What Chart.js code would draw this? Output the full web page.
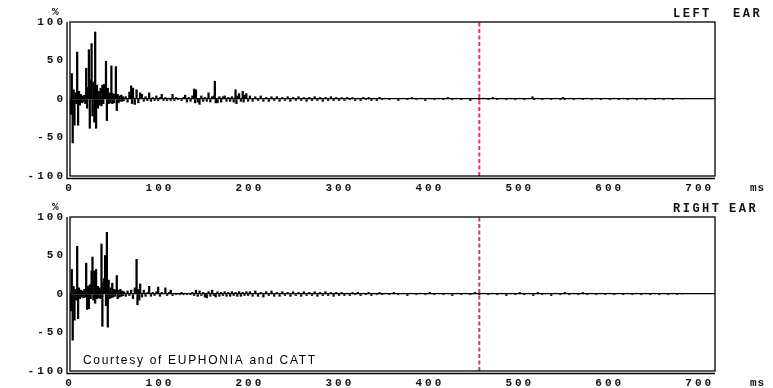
<!DOCTYPE html>
<html>
<head>
<meta charset="utf-8">
<script src="https://cdn.jsdelivr.net/npm/chart.js@4.4.1/dist/chart.umd.min.js"></script>
<style>
  html, body { margin: 0; padding: 0; background: #fff; overflow: hidden; }
  canvas { display: block; }
</style>
</head>
<body>
<canvas id="leftChart" width="773" height="195"></canvas>
<canvas id="rightChart" width="773" height="193"></canvas>
<script>
// impulse response values: [ms, %]
var leftEar = [
  [0,0],[1,-20],[2,33],[3,-57],[4,12],[5,-34],[6,8],[7,-6],[8,61],[9,-34],
  [10,10],[11,-8],[12,6],[13,-5],[14,4],[15,-4],[16,5],[17,-6],[18,40],[19,-12],
  [20,15],[21,64],[22,-38],[23,25],[24,72],[25,-22],[26,22],[27,-30],[28,87],[29,-38],
  [30,18],[31,-12],[32,10],[33,-8],[34,14],[35,-9],[36,18],[37,-6],[38,19],[39,12],
  [40,49],[41,-28],[42,14],[43,-6],[44,8],[45,-5],[46,43],[47,-6],[48,7],[49,-5],
  [50,6],[51,42],[52,-15],[53,6],[54,-5],[55,4],[56,-3],[57,5],[58,-3],[59,3],[60,-2],
  [62,3],[64,-4],[66,9],[68,17],[69,-6],[70,14],[72,-7],[74,12],[76,-5],[78,8],
  [80,6],[82,-3],[84,3],[86,-2],[88,8],[90,-3],[92,2],[94,-2],[96,4],[98,-2],
  [100,2],[102,6],[104,-2],[106,2],[108,-2],[110,1],[112,-2],[114,6],[116,-2],[118,2],
  [120,-1],[122,1],[124,-2],[126,2],[128,5],[130,-4],[132,2],[134,-3],[136,4],[138,13],
  [139,-5],[140,12],[142,-4],[144,-7],[146,4],[148,-3],[150,2],[152,-3],[154,8],[156,-4],
  [158,3],[160,4],[161,23],[162,-5],[164,-5],[166,3],[168,-4],[170,3],[172,4],[174,-3],
  [176,2],[178,-3],[180,3],[182,-4],[184,12],[185,-6],[186,4],[188,7],[190,-3],[192,10],
  [193,-4],[194,5],[196,7],[198,-3],[200,4],
  [203,-3],[206,3],[209,-2],[212,4],[215,-3],[218,2],[221,-3],[224,3],[227,-2],[230,3],
  [233,-3],[236,2],[239,-2],[242,3],[245,-3],[248,2],[251,-2],[254,3],[257,-2],[260,2],
  [263,-3],[266,2],[269,-2],[272,3],[275,-2],[278,2],[281,-3],[284,2],[287,-2],[290,3],
  [293,-2],[296,2],[299,-2],[302,2],[305,-2],[308,2],[311,-1],[314,2],[317,-2],[320,1],
  [323,-2],[326,2],[329,-1],[332,2],[335,-2],[338,1],[341,-2],[344,2],[347,-1],[350,1],
  [355,-1],[360,1],[365,-2],[370,1],[375,-1],[380,2],[385,-1],[390,1],[395,-2],[400,1],
  [405,-1],[410,1],[415,-1],[420,2],[425,-1],[430,1],[435,-1],[440,1],[445,-2],[450,1],
  [455,-1],[460,1],[465,-1],[470,2],[475,-1],[480,1],[485,-1],[490,1],[495,-1],[500,1],
  [505,-1],[510,1],[514,3],[516,-1],[520,1],[525,-1],[530,1],[535,-1],[540,1],[545,-1],
  [548,2],[550,-1],[555,1],[560,-1],[565,1],[570,-1],[575,1],[580,-1],[585,1],[590,-1],
  [595,1],[600,-1],[605,1],[610,-1],[615,1],[620,-1],[625,1],[630,-1],[635,1],[640,-1],
  [645,1],[650,-1],[655,1],[660,-1],[665,1],[670,-1],[675,1],[681,0]
];

var rightEar = [
  [0,0],[1,-22],[2,32],[3,-60],[4,10],[5,-34],[6,6],[7,-8],[8,62],[9,-32],
  [10,8],[11,-6],[12,5],[13,-4],[14,4],[15,-5],[16,6],[17,-4],[18,40],[19,-20],
  [20,10],[21,-19],[22,12],[23,-6],[24,30],[25,48],[26,-8],[27,30],[28,-12],[29,32],
  [30,-6],[31,10],[32,-5],[33,8],[34,-6],[35,65],[36,-42],[37,15],[38,20],[39,50],
  [40,-15],[41,80],[42,-43],[43,18],[44,-6],[45,8],[46,-5],[47,14],[48,-4],[49,6],
  [50,-3],[51,5],[52,24],[53,-6],[54,5],[55,-4],[56,6],[57,-3],[58,4],[59,-2],[60,3],
  [62,-3],[64,4],[66,-2],[68,5],[70,-6],[72,8],[74,45],[75,-14],[76,6],[77,-8],
  [78,13],[80,-4],[82,5],[84,-3],[86,2],[88,10],[90,-3],[92,2],[94,-2],[96,3],
  [98,9],[100,-3],[102,2],[104,1],[106,8],[108,-2],[110,2],[112,5],[114,-2],[116,1],
  [118,-1],[120,1],[122,-1],[124,2],[126,-1],[128,1],[130,-1],[132,1],[134,-1],[136,2],
  [138,-2],[140,5],[142,-3],[144,4],[146,-2],[148,2],[150,-4],[152,-5],[154,3],[156,-3],
  [158,5],[160,-2],[162,-4],[164,3],[166,-3],[168,2],[170,-2],[172,3],[174,-3],[176,2],
  [178,-3],[180,3],[182,-2],[184,2],[186,-3],[188,3],[190,-3],[192,2],[194,-2],[196,3],
  [198,-2],[200,3],
  [203,-3],[206,4],[209,-3],[212,2],[215,-4],[218,3],[221,-2],[224,4],[227,-3],[230,2],
  [233,-3],[236,3],[239,-2],[242,2],[245,-3],[248,3],[251,-2],[254,2],[257,-3],[260,3],
  [263,-2],[266,2],[269,-2],[272,3],[275,-3],[278,2],[281,-2],[284,3],[287,-2],[290,2],
  [293,-3],[296,2],[299,-2],[302,2],[305,-2],[308,1],[311,-2],[314,2],[317,-1],[320,2],
  [323,-2],[326,1],[329,-1],[332,2],[335,-2],[338,1],[341,-1],[344,2],[347,-1],[350,1],
  [355,-1],[360,2],[365,-1],[370,1],[375,-2],[380,1],[385,-1],[390,1],[395,-1],[400,2],
  [405,-1],[410,1],[415,-1],[420,1],[425,-2],[430,1],[435,-1],[440,1],[445,-1],[450,2],
  [455,-1],[460,1],[465,-1],[470,1],[475,-1],[480,1],[485,-2],[490,1],[495,-1],[500,2],
  [505,-1],[510,1],[515,-2],[520,2],[525,-1],[530,1],[535,-2],[540,1],[545,-1],[550,2],
  [555,-1],[560,1],[565,-1],[570,2],[575,-1],[580,1],[585,-1],[590,1],[595,-1],[600,1],
  [605,-1],[610,1],[615,-1],[620,1],[625,-1],[630,1],[635,-1],[640,1],[645,-1],[650,1],
  [655,-1],[660,1],[665,-1],[670,1],[675,-1],[681,0]
];

var markerMs = 455;
var xTicksMs = [0, 100, 200, 300, 400, 500, 600, 700];
var yTicksPct = [-100, -50, 0, 50, 100];
var xMax = 717;

var monoFont = { family: 'Liberation Mono', weight: 'bold', size: 11 };

var framePlugin = {
  id: 'frame',
  beforeDraw: function(chart) {
    chart.ctx.letterSpacing = '3px';
  },
  afterDraw: function(chart, args, opts) {
    var ctx = chart.ctx, a = chart.chartArea;
    ctx.save();
    ctx.strokeStyle = '#000';
    ctx.lineWidth = 1.3;
    ctx.strokeRect(a.left, a.top, a.right - a.left, a.bottom - a.top);
    ctx.beginPath();
    ctx.moveTo(a.left - 3, a.top);
    ctx.lineTo(a.left - 3, a.bottom + 2.5);
    ctx.lineTo(a.right, a.bottom + 2.5);
    ctx.stroke();

    ctx.fillStyle = '#111';
    ctx.textBaseline = 'middle';
    ctx.textAlign = 'left';
    ctx.letterSpacing = '2.5px';
    ctx.font = 'bold 12px "Liberation Mono"';
    ctx.fillText(opts.word1, 673, 13.5);
    ctx.fillText('EAR', opts.earX, 13.5);
    ctx.letterSpacing = '1px';
    ctx.font = 'bold 11px "Liberation Mono"';
    ctx.fillText('%', 52, 12);
    ctx.fillText('ms', 750, 188);

    if (opts.courtesy) {
      var txt = 'Courtesy of EUPHONIA and CATT';
      ctx.font = '12px "Liberation Sans"';
      ctx.letterSpacing = '0px';
      var w = ctx.measureText(txt).width;
      ctx.letterSpacing = ((232 - w) / (txt.length - 1)).toFixed(2) + 'px';
      ctx.fillStyle = '#000';
      ctx.fillText(txt, 83, 166);
    }
    ctx.restore();
  }
};

function makeChart(id, series, word1, earX, courtesy, dashColor) {
  var canvas = document.getElementById(id);
  var h = canvas.height;
  return new Chart(canvas.getContext('2d'), {
    type: 'line',
    data: {
      datasets: [{
        data: [{ x: markerMs, y: yTicksPct[0] }, { x: markerMs, y: yTicksPct[yTicksPct.length - 1] }],
        borderColor: dashColor,
        borderWidth: 2,
        borderDash: [4, 2.5],
        pointRadius: 0
      }, {
        type: 'bar',
        data: series.map(function(p) { return { x: p[0], y: p[1] }; }),
        backgroundColor: '#000',
        borderWidth: 0,
        barThickness: 1.6,
        grouped: false
      }]
    },
    options: {
      responsive: false,
      animation: false,
      events: [],
      layout: { padding: { top: 22, right: 58, left: 0, bottom: 0 } },
      plugins: {
        legend: { display: false },
        tooltip: { enabled: false },
        frame: { word1: word1, earX: earX, courtesy: courtesy }
      },
      scales: {
        x: {
          type: 'linear',
          min: 0,
          max: xMax,
          offset: false,
          afterFit: function(s) { s.height = h - 176; },
          afterBuildTicks: function(s) { s.ticks = xTicksMs.map(function(v) { return { value: v }; }); },
          grid: { display: false, drawTicks: false, offset: false },
          border: { display: false },
          ticks: { autoSkip: false, maxRotation: 0, padding: 6, color: '#111', font: monoFont }
        },
        y: {
          min: yTicksPct[0],
          max: yTicksPct[yTicksPct.length - 1],
          afterFit: function(s) { s.width = 70; },
          afterBuildTicks: function(s) { s.ticks = yTicksPct.map(function(v) { return { value: v }; }); },
          grid: {
            drawTicks: false,
            lineWidth: 1.2,
            color: function(c) { return c.tick && c.tick.value === 0 ? '#000' : 'rgba(0,0,0,0)'; }
          },
          border: { display: false },
          ticks: { padding: 4, color: '#111', font: monoFont }
        }
      }
    },
    plugins: [framePlugin]
  });
}

makeChart('leftChart', leftEar, 'LEFT', 733, false, '#f02a6a');
makeChart('rightChart', rightEar, 'RIGHT', 729, true, '#c83a6a');
</script>
</body>
</html>
